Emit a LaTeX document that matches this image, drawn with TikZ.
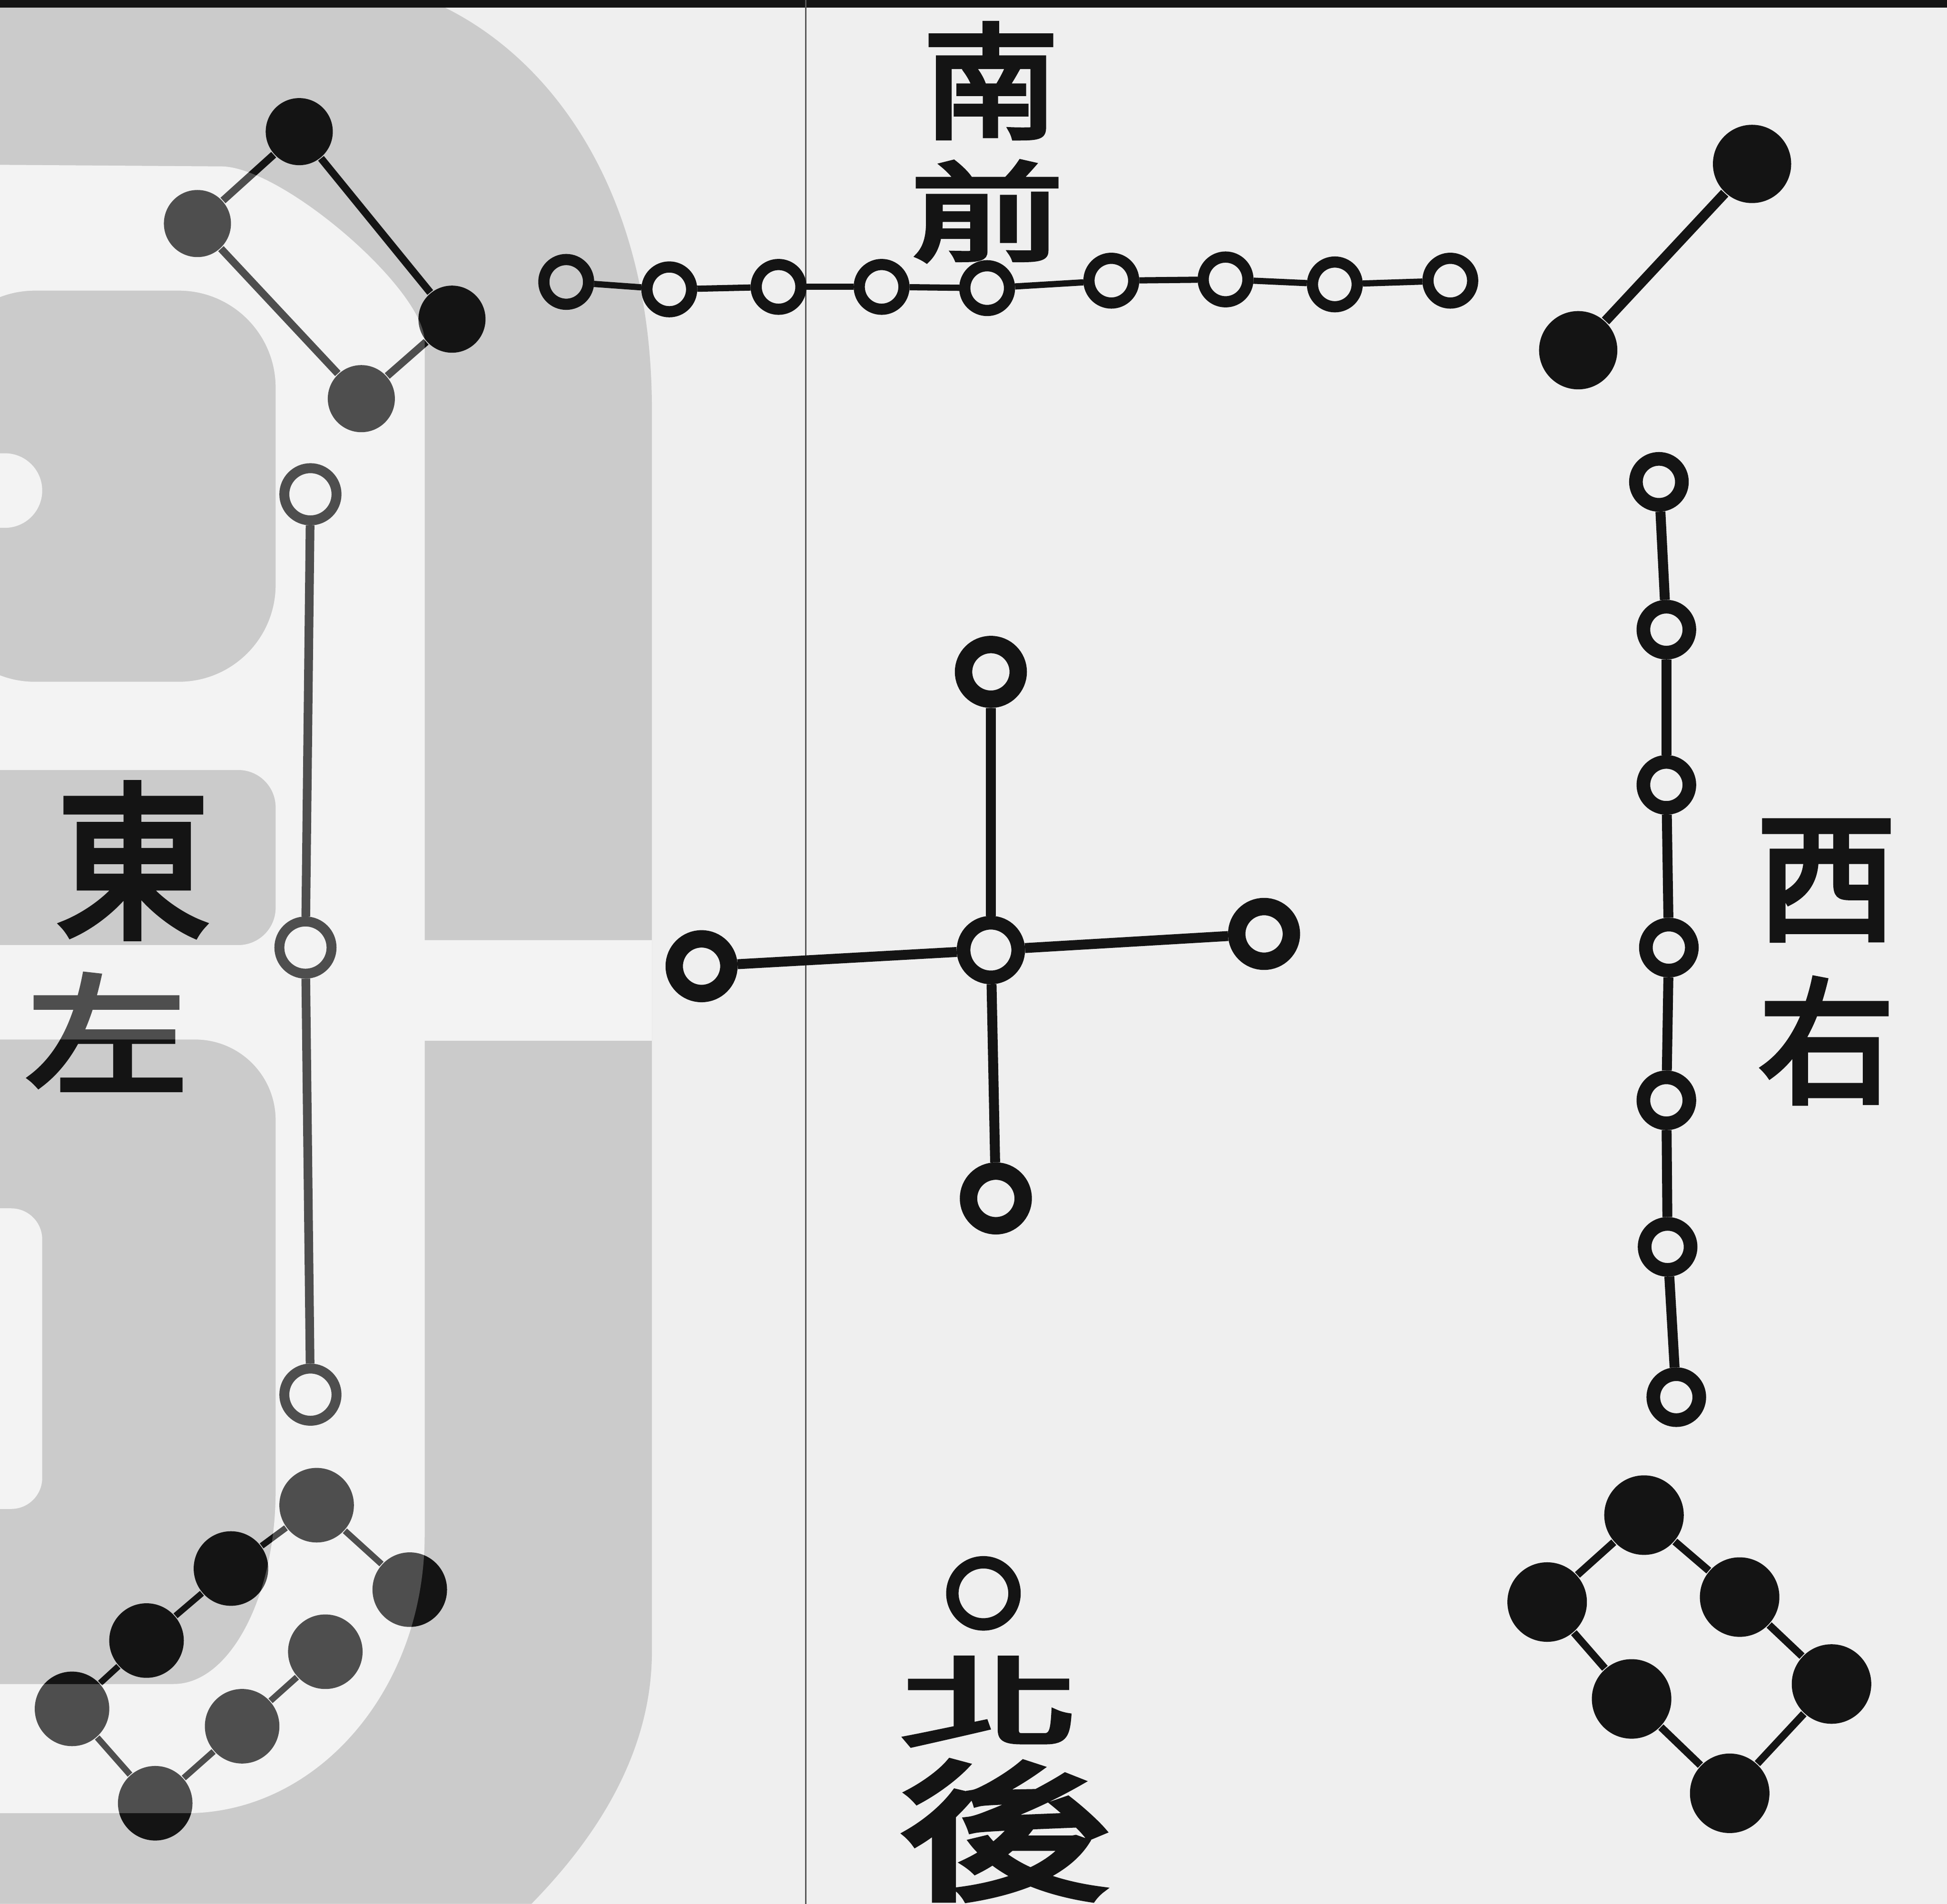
\documentclass[tikz,border=0pt]{standalone}
\usepackage{fontspec}
\usepackage{graphicx}
\usepackage{tikz}
\newfontfamily\cjk{Noto Sans CJK TC}[FakeBold=4]
\definecolor{ink}{HTML}{141414}
\definecolor{paper}{HTML}{EFEFEF}
\definecolor{panelgrey}{HTML}{CBCBCB}
\definecolor{foldline}{HTML}{555555}
\tikzset{
  yang/.style={circle, draw=ink, inner sep=0pt, line width=0.09cm, minimum size=0.36cm},
  yin/.style={circle, fill=ink, inner sep=0pt, minimum size=0.54cm},
  link/.style={draw=ink, line width=0.05cm},
  glyph/.style={font=\cjk, text=ink, inner sep=0pt}
}
% lighter cut-outs of the grey panel on the left
\newcommand{\cutouts}{(-100,132) -- (178,134) .. controls (227,134) and (342,233) .. (342,275)
  -- (342,1236) .. controls (342,1360) and (256,1460) .. (150,1460) -- (-100,1460) -- cycle
  [rounded corners=0.78cm] (-50,234) rectangle (222,549)
  [rounded corners=0.3cm] (-50,620) rectangle (222,761)
  [sharp corners] (-50,837) -- (157,837) .. controls (193,837) and (222,866) .. (222,902)
  -- (222,1200) .. controls (222,1286) and (185,1356) .. (140,1356) -- (-50,1356) -- cycle
  [rounded corners=0.3cm] (-40,365) rectangle (34,425)
  [rounded corners=0.25cm] (-40,973) rectangle (34,1215)
  [sharp corners] (342,757) rectangle (525,838)}

\begin{document}
\begin{tikzpicture}[x=0.01cm, y=-0.01cm]
\useasboundingbox (0,0) rectangle (1568,1533);
\clip (0,0) rectangle (1568,1533);
\fill[paper] (0,0) rectangle (1568,1533);
\fill[panelgrey] (0,0) -- (345,0) .. controls (440,40) and (525,150) .. (525,330)
  -- (525,1330) .. controls (525,1420) and (470,1490) .. (428,1533) -- (0,1533) -- cycle;
\fill[paper, even odd rule] \cutouts;
\fill[ink] (0,0) rectangle (1568,6);
\draw[foldline, line width=0.012cm] (649,0) -- (649,1533);

% south: nine
\foreach \x/\y [count=\i] in {456/227, 539/233, 627/231, 710/231, 795/232, 895/226, 987/225, 1075/229, 1168/226}
  \node[yang] (so\i) at (\x,\y) {};
\foreach \i [remember=\i as \j (initially 1)] in {2,...,9}
  \draw[link] (so\j) -- (so\i);

% west: seven
\foreach \x/\y [count=\i] in {1336/388, 1342/507, 1342/632, 1344/763, 1342/886, 1343/1004, 1350/1125}
  \node[yang, line width=0.11cm, minimum size=0.37cm] (we\i) at (\x,\y) {};
\foreach \i [remember=\i as \j (initially 1)] in {2,...,7}
  \draw[link, line width=0.08cm] (we\j) -- (we\i);

% east: three
\foreach \x/\y [count=\i] in {250/398, 246/763, 250/1123}
  \node[yang, line width=0.08cm, minimum size=0.42cm] (ea\i) at (\x,\y) {};
\draw[link, line width=0.07cm] (ea1) -- (ea2) (ea2) -- (ea3);

% centre: five
\node[yang, line width=0.11cm, minimum size=0.44cm] (mid) at (798,765) {};
\node[yang, line width=0.14cm, minimum size=0.44cm] (midn) at (798,541) {};
\node[yang, line width=0.14cm, minimum size=0.44cm] (mids) at (802,965) {};
\node[yang, line width=0.14cm, minimum size=0.44cm] (midw) at (565,778) {};
\node[yang, line width=0.14cm, minimum size=0.44cm] (mide) at (1018,752) {};
\foreach \a in {midn,mids,midw,mide}
  \draw[link, line width=0.08cm] (mid) -- (\a);

% north: one
\node[yang, line width=0.10cm, minimum size=0.50cm] (no1) at (792,1283) {};

% southeast: four
\node[yin] (sea) at (241,106) {};
\node[yin] (seb) at (159,180) {};
\node[yin] (sec) at (364,257) {};
\node[yin] (sed) at (291,321) {};
\draw[link, line width=0.06cm] (sea) -- (seb) (sea) -- (sec) (seb) -- (sed) (sec) -- (sed);

% southwest: two
\node[yin, minimum size=0.63cm] (swa) at (1411,132) {};
\node[yin, minimum size=0.63cm] (swb) at (1271,282) {};
\draw[link, line width=0.08cm] (swa) -- (swb);

% northeast: eight
\foreach \n/\x/\y in {nea/255/1212, neb/186/1263, nec/118/1321, ned/58/1376,
                      nee/330/1280, nef/262/1330, neg/195/1390, neh/125/1452}
  \node[yin, minimum size=0.60cm] (\n) at (\x,\y) {};
\draw[link] (nea) -- (neb) (neb) -- (nec) (nec) -- (ned) (nea) -- (nee)
  (nef) -- (neg) (neg) -- (neh) (ned) -- (neh);

% northwest: six
\foreach \n/\x/\y in {nwa/1324/1220, nwb/1246/1290, nwc/1401/1286,
                      nwd/1314/1368, nwe/1475/1356, nwf/1393/1444}
  \node[yin, minimum size=0.64cm] (\n) at (\x,\y) {};
\draw[link, line width=0.06cm] (nwa) -- (nwb) (nwa) -- (nwc) (nwb) -- (nwd)
  (nwc) -- (nwe) (nwd) -- (nwf) (nwe) -- (nwf);

% direction labels
\node[glyph] (nan) at (798,65) {\fontsize{31}{31}\selectfont\scalebox{1}[0.92]{南}};
\node[glyph] (qian) at (795,170) {\fontsize{35}{35}\selectfont\scalebox{1}[0.7]{前}};
\node[glyph] (dong) at (107,693) {\fontsize{35}{35}\selectfont\scalebox{1}[1.1]{東}};
\node[glyph] (zuo) at (86,831) {\fontsize{37}{37}\selectfont\scalebox{1}[0.8]{左}};
\node[glyph] (xi) at (1471,709) {\fontsize{32}{32}\selectfont 西};
\node[glyph] (you) at (1471,838) {\fontsize{31}{31}\selectfont 右};
\node[glyph] (bei) at (797,1370) {\fontsize{41}{41}\selectfont\scalebox{1}[0.55]{北}};
\node[glyph] (hou) at (810,1474) {\fontsize{49}{49}\selectfont\scalebox{1}[0.7]{後}};

\fill[white, opacity=0.25, even odd rule] \cutouts;
\end{tikzpicture}
\end{document}
